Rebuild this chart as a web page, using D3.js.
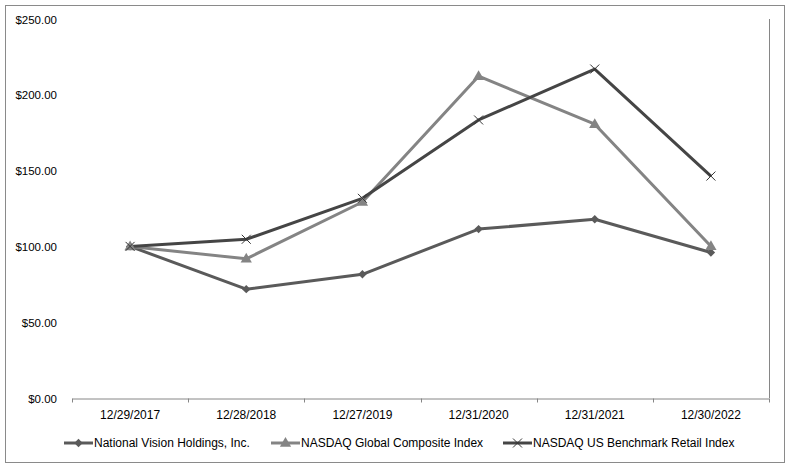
<!DOCTYPE html>
<html><head><meta charset="utf-8">
<script src="https://cdn.jsdelivr.net/npm/d3@7"></script>
<style>body{margin:0;background:#fff}svg{display:block}text{font-family:"Liberation Sans",Arial,sans-serif;fill:#000}</style>
</head><body><svg id="c" width="793" height="470"></svg>
<script>
const categories = ["12/29/2017","12/28/2018","12/27/2019","12/31/2020","12/31/2021","12/30/2022"];
const nationalVision = [100, 71.8, 81.6, 111.4, 117.9, 96.0];
const nasdaqGlobal = [100, 91.8, 129.3, 212.3, 180.6, 100.1];
const nasdaqRetail = [100, 104.7, 131.7, 183.4, 217.0, 146.4];
const yTicks = [0, 50, 100, 150, 200, 250];
const seriesNames = ["National Vision Holdings, Inc.", "NASDAQ Global Composite Index", "NASDAQ US Benchmark Retail Index"];

const series = [
  {name: seriesNames[0], values: nationalVision, color: "#5a5a5a", marker: "diamond"},
  {name: seriesNames[1], values: nasdaqGlobal, color: "#848484", marker: "triangle"},
  {name: seriesNames[2], values: nasdaqRetail, color: "#454545", marker: "x"}
];

const svg = d3.select("#c");
const axisColor = "#868686";
svg.append("rect").attr("x",5.5).attr("y",5.5).attr("width",779).attr("height",457)
  .attr("fill","#fff").attr("stroke","#8a8a8a").attr("stroke-width",1);

const x = d3.scaleBand().domain(categories).range([72,769]).padding(0);
const y = d3.scaleLinear().domain([0,250]).range([398,19]);

// y labels
const yAxis = d3.axisLeft(y).tickValues(yTicks).tickSize(0).tickFormat(d => "$" + d3.format(".2f")(d));
const gy = svg.append("g").attr("transform","translate(57,0)").call(yAxis);
gy.select(".domain").remove();
gy.selectAll("text").attr("font-size","11.5px").attr("x",0).attr("dy","0.35em");

// right vertical line
svg.append("line").attr("x1",769.5).attr("x2",769.5).attr("y1",y(250)).attr("y2",y(0)).attr("stroke",axisColor);

// x axis
const xAxis = d3.axisBottom(x).tickSize(0).tickPadding(12);
const gx = svg.append("g").attr("transform",`translate(0,${y(0)+0.5})`).call(xAxis);
gx.select(".domain").attr("stroke",axisColor);
gx.selectAll("text").attr("font-size","12px");
const bounds = categories.map(c => x(c)).concat([x.range()[1]]);
gx.selectAll(".tb").data(bounds).enter().append("line").attr("class","tb")
  .attr("x1",d=>Math.round(d)+0.5).attr("x2",d=>Math.round(d)+0.5).attr("y1",0).attr("y2",4).attr("stroke",axisColor);

const cx = c => x(c) + x.bandwidth()/2;
const line = d3.line().x((d,i)=>cx(categories[i])).y(d=>y(d));

function drawMarker(g, type, px, py, color){
  if(type==="diamond"){
    g.append("path").attr("d",d3.symbol().type(d3.symbolDiamond2 || d3.symbolDiamond).size(45)())
      .attr("transform",`translate(${px},${py})`).attr("fill",color);
  } else if(type==="triangle"){
    g.append("path").attr("d",d3.symbol().type(d3.symbolTriangle).size(55)())
      .attr("transform",`translate(${px},${py+0.5})`).attr("fill",color);
  } else {
    const s=4.5;
    g.append("path").attr("d",`M${px-s},${py-s}L${px+s},${py+s}M${px-s},${py+s}L${px+s},${py-s}`)
      .attr("stroke","#333").attr("stroke-width",1).attr("fill","none");
  }
}

const plot = svg.append("g");
series.forEach(s=>{
  plot.append("path").datum(s.values).attr("d",line).attr("fill","none")
    .attr("stroke",s.color).attr("stroke-width",3).attr("stroke-linejoin","round");
});
series.forEach(s=>{
  const g = plot.append("g");
  s.values.forEach((v,i)=>drawMarker(g,s.marker,cx(categories[i]),y(v),s.color));
});

// legend
const legendX = [64, 271, 503];
const ly = 443;
series.forEach((s,i)=>{
  const g = svg.append("g");
  g.append("line").attr("x1",legendX[i]).attr("x2",legendX[i]+29).attr("y1",ly).attr("y2",ly)
    .attr("stroke",s.color).attr("stroke-width",3);
  drawMarker(g,s.marker,legendX[i]+14.5,ly,s.color);
  g.append("text").attr("x",legendX[i]+30).attr("y",ly).attr("dy","0.35em").attr("font-size","12px").text(s.name);
});
</script></body></html>
